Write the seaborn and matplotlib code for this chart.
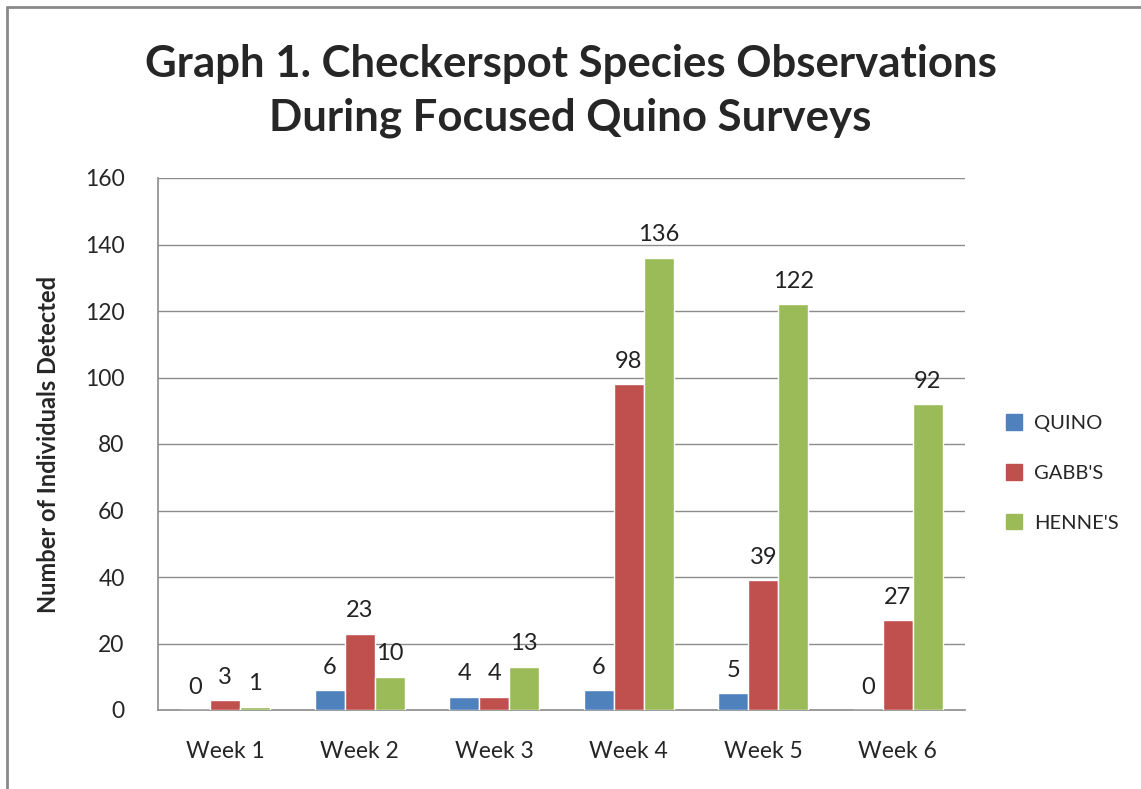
import matplotlib
matplotlib.use("Agg")
import matplotlib.pyplot as plt
import seaborn as sns
import pandas as pd
from matplotlib.lines import Line2D

weeks = ["Week 1", "Week 2", "Week 3", "Week 4", "Week 5", "Week 6"]
series = ["QUINO", "GABB'S", "HENNE'S"]
quino = [0, 6, 4, 6, 5, 0]
gabbs = [3, 23, 4, 98, 39, 27]
hennes = [1, 10, 13, 136, 122, 92]
colors = ["#4F81BD", "#C0504D", "#9BBB59"]
yticks = [0, 20, 40, 60, 80, 100, 120, 140, 160]

rows = []
for name, vals in zip(series, [quino, gabbs, hennes]):
    for w, v in zip(weeks, vals):
        rows.append({"Week": w, "Species": name, "Count": v})
df = pd.DataFrame(rows)

sns.set_theme(style="white")
plt.rcParams["font.family"] = ["Lato", "DejaVu Sans"]

fig = plt.figure(figsize=(11.41, 7.89), dpi=100)
ax = fig.add_axes([158/1141, 1-710/789, (965-158)/1141, (710-178)/789])

sns.barplot(data=df, x="Week", y="Count", hue="Species", order=weeks,
            hue_order=series, palette=colors, width=0.67, gap=0,
            saturation=1, ax=ax, errorbar=None, zorder=3)

for cont in ax.containers:
    ax.bar_label(cont, padding=9, fontsize=17, color="#222222")

ax.set_ylim(0, 160)
ax.set_yticks(yticks)
ax.set_yticklabels([str(t) for t in yticks], fontsize=16.5)
ax.set_xticks(range(len(weeks)))
ax.set_xticklabels(weeks, fontsize=16.5)
ax.tick_params(axis="x", pad=22, length=0)
ax.tick_params(axis="y", pad=24, length=0)
ax.grid(axis="y", color="#8c8c8c", linewidth=1, zorder=0)
ax.set_axisbelow(True)
for s in ["top", "right"]:
    ax.spines[s].set_visible(False)
for s in ["left", "bottom"]:
    ax.spines[s].set_color("#8c8c8c")
    ax.spines[s].set_linewidth(1.2)
ax.set_xlabel("")
ax.set_ylabel("Number of Individuals Detected", fontsize=17,
              fontweight="bold")
ax.yaxis.set_label_coords((60-158)/807, 0.5)

fig.text(0.5, 1-91/789, "Graph 1. Checkerspot Species Observations\nDuring Focused Quino Surveys",
         ha="center", va="center", fontsize=31.5, fontweight="bold",
         linespacing=1.42)

ax.legend_.remove()
handles = [plt.Rectangle((0, 0), 1, 1, color=c) for c in colors]
fig.legend(handles, series, loc="center left",
           bbox_to_anchor=(988/1141, 1-473/789), frameon=False,
           fontsize=14.5, handlelength=0.8, handleheight=0.8,
           labelspacing=1.6, handletextpad=0.6)

fig.add_artist(Line2D([7/1141, 7/1141], [0, 1-7/789], transform=fig.transFigure,
                      color="#8a8a8a", linewidth=2))
fig.add_artist(Line2D([7/1141, 1], [1-7/789, 1-7/789], transform=fig.transFigure,
                      color="#8a8a8a", linewidth=2))

fig.savefig("out.png", dpi=100, facecolor="white")
